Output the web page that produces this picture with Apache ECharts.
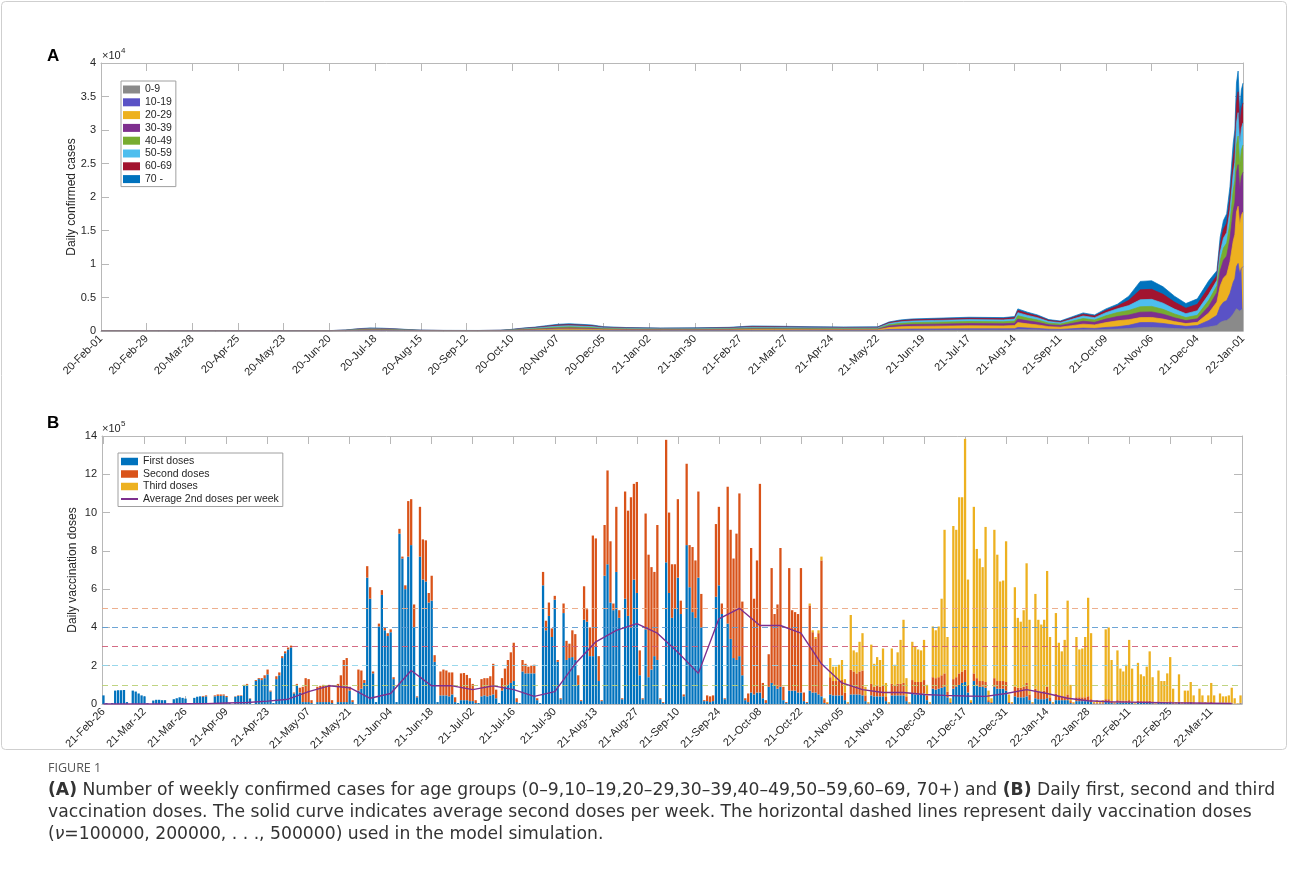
<!DOCTYPE html>
<html><head><meta charset="utf-8">
<script src="https://cdn.jsdelivr.net/npm/echarts@6/dist/echarts.min.js"></script>
<style>html,body{margin:0;padding:0;background:#fff}#chart{width:1289px;height:888px}</style>
</head><body><div id="chart"></div>
<script>
// ---------- Panel A: daily confirmed cases by age group (sample days from 20-Feb-01) ----------
const labelsA = ['20-Feb-01','20-Feb-29','20-Mar-28','20-Apr-25','20-May-23','20-Jun-20','20-Jul-18','20-Aug-15','20-Sep-12','20-Oct-10','20-Nov-07','20-Dec-05','21-Jan-02','21-Jan-30','21-Feb-27','21-Mar-27','21-Apr-24','21-May-22','21-Jun-19','21-Jul-17','21-Aug-14','21-Sep-11','21-Oct-09','21-Nov-06','21-Dec-04','22-Jan-01'];
const daysA = [0,35,70,105,140,150,158,165,172,179,186,196,210,231,245,252,259,266,273,280,287,294,301,308,322,343,364,385,399,413,434,455,476,483,490,497,511,532,553,560,562,568,574,581,588,595,602,609,616,623,630,637,644,651,658,665,672,679,684,686,688,690,692,694,695,696,697,698,699,700];
const ageNames = ['0-9','10-19','20-29','30-39','40-49','50-59','60-69','70 -'];
const age0_9 = [3,3,2,2,3,8,18,22,21,18, 12,6,5,4,6,12,22,29,40,50, 54,50,45,32,26,22,24,28,38,36, 32,30,31,94,116,126,133,144,140,150, 231,196,168,119,105,147,189,168,231,280, 364,518,525,462,364,287,336,600,810,1260, 1485,1575,1935,2520,2700,3330,3492,2970,3240,3330];
const age10_19 = [4,4,3,3,4,10,25,32,29,25, 18,9,6,6,8,18,32,41,56,70, 76,70,63,46,36,32,33,38,52,50, 46,42,43,122,148,162,171,184,180,194, 297,252,216,153,135,189,243,216,297,360, 494,740,750,660,520,410,480,975,1530,2380, 2805,2975,3655,4760,5100,6290,6596,5610,6120,6290];
const age20_29 = [10,8,7,7,10,26,60,76,71,60, 42,22,15,14,20,42,76,99,136,170, 184,170,153,110,88,76,80,94,128,122, 110,102,105,297,363,396,418,451,440,473, 726,616,528,374,330,462,594,528,726,880, 832,740,750,660,520,410,480,1125,1980,3080, 3630,3850,4730,6160,6600,8140,8536,7260,7920,8140];
const age30_39 = [8,6,5,5,8,20,45,58,55,45, 33,17,12,10,16,33,58,75,104,130, 140,130,117,85,68,58,61,72,98,94, 85,78,81,216,264,288,304,328,320,344, 528,448,384,272,240,336,432,384,528,640, 702,814,825,726,572,451,528,975,1440,2240, 2640,2800,3440,4480,4800,5920,6208,5280,5760,5920];
const age40_49 = [9,8,6,6,9,22,52,68,63,52, 38,20,13,12,18,38,68,87,120,150, 162,150,135,98,78,68,70,82,112,108, 98,90,93,202,248,270,285,308,300,322, 495,420,360,255,225,315,405,360,495,600, 676,814,825,726,572,451,528,900,990,1540, 1815,1925,2365,3080,3300,4070,4268,3630,3960,4070];
const age50_59 = [10,8,7,7,10,25,60,77,72,60, 42,22,15,14,20,42,77,99,136,170, 184,170,153,110,88,77,80,94,128,122, 110,102,105,189,231,252,266,287,280,301, 462,392,336,238,210,294,378,336,462,560, 728,1036,1050,924,728,574,672,900,810,1260, 1485,1575,1935,2520,2700,3330,3492,2970,3240,3330];
const age60_69 = [9,7,6,6,9,21,49,63,59,49, 35,18,13,11,17,35,63,81,112,140, 151,140,126,91,73,63,66,77,105,101, 91,84,87,135,165,180,190,205,200,215, 330,280,240,170,150,210,270,240,330,400, 780,1480,1500,1320,1040,820,960,1050,720,1120, 1320,1400,1720,2240,2400,2960,3104,2640,2880,2960];
const age70 = [7,6,4,4,7,18,41,54,50,41, 30,16,11,9,15,30,54,69,96,120, 129,120,108,78,63,54,56,66,90,86, 78,72,74,95,115,126,133,144,140,150, 231,196,168,119,105,147,189,168,231,280, 624,1258,1275,1122,884,697,816,975,720,1120, 1320,1400,1720,2240,2400,2960,3104,2640,2880,2960];

// ---------- Panel B: daily vaccination doses (units of 1e5), day 0 = 21-Feb-26 ----------
const labelsB = ['21-Feb-26','21-Mar-12','21-Mar-26','21-Apr-09','21-Apr-23','21-May-07','21-May-21','21-Jun-04','21-Jun-18','21-Jul-02','21-Jul-16','21-Jul-30','21-Aug-13','21-Aug-27','21-Sep-10','21-Sep-24','21-Oct-08','21-Oct-22','21-Nov-05','21-Nov-19','21-Dec-03','21-Dec-17','21-Dec-31','22-Jan-14','22-Jan-28','22-Feb-11','22-Feb-25','22-Mar-11'];
const firstDoses = [
.45,.05,0,.05,.7,.72,.72,.73,.1,0,
.7,.65,.55,.45,.4,.05,0,.18,.22,.22,
.2,.2,.02,0,.25,.3,.35,.32,.28,.03,
0,.32,.38,.4,.38,.4,.05,0,.4,.42,
.42,.44,.36,.05,0,.38,.42,.42,.96,1.0,
.28,0,1.2,1.3,1.25,1.35,1.55,.65,.05,1.3,
1.5,2.4,2.65,2.85,2.95,.55,1.0,.6,.1,.1,
.1,.05,0,.1,.1,.1,.1,.1,.05,0,
.1,.1,.1,.1,.7,.1,0,.7,.8,1.1,
6.6,5.5,1.6,.1,4.05,5.7,3.85,3.55,3.75,1.3,
.1,8.9,7.6,6.0,7.7,8.3,4.0,.35,7.7,6.5,
6.4,5.3,5.4,2.2,.1,.45,.45,.45,.4,.5,
.1,.05,.2,.2,.2,.15,.15,.05,.05,.4,
.45,.4,.45,.5,.3,.05,.7,.9,1.0,1.1,
1.2,.1,.05,1.7,1.6,1.6,1.6,1.6,.2,.05,
6.2,3.85,4.6,3.5,5.45,2.2,.25,4.75,2.3,2.4,
2.45,2.3,1.0,.15,4.4,4.3,2.5,2.5,3.0,1.2,
.15,6.7,7.3,5.3,4.9,6.9,4.5,.25,5.5,4.6,
4.0,6.5,5.8,1.5,.25,3.9,1.4,1.8,2.5,2.3,
.25,.05,7.4,5.8,4.5,5.0,6.6,4.7,.4,8.3,
6.1,4.8,4.5,6.6,4.0,.15,.15,.1,.15,5.6,
6.2,4.7,.25,4.2,3.4,2.4,2.3,2.5,1.5,.2,
.1,.6,.5,.6,.6,.3,.05,.9,1.1,1.0,
.8,.9,.2,.05,.7,.7,.7,.6,.6,.15,
.05,.7,.6,.6,.5,.4,.05,0,.5,.45,
.45,.45,.45,.2,.02,.5,.5,.5,.5,.45,
.15,.02,.45,.4,.4,.4,.4,.15,.02,.45,
.45,.45,.45,.45,.15,.02,.55,.5,.5,.5,
.55,.2,.02,.8,.75,.8,.85,.9,.35,.05,
.8,.9,1.0,1.1,1.15,.6,.05,1.2,1.0,.9,
.9,.85,.1,.05,.9,.8,.8,.8,.7,.05,
.02,.4,.35,.35,.35,.4,.2,.02,.3,.25,
.25,.25,.3,.15,.02,.2,.2,.2,.2,.2,
.05,.02,.15,.15,.15,.15,.15,.1,.02,.02,
.02,.02,.1,.1,.05,.02,.08,.08,.08,.08,
.08,.05,.01,.07,.07,.07,.07,.07,.04,.01,
.06,.05,.05,.05,.06,.03,.01,.05,.01,.04,
.04,.05,.02,.01,.04,.03,.01,.03,.05,.02,
.01,.03,.03,.03,.03,.03,.01,.01,.03];
const secondDoses = [
0,0,0,0,0,0,0,0,0,0,
0,0,0,0,0,0,0,0,0,0,
0,0,0,0,0,0,0,0,0,0,
0,0,0,0,.04,.05,0,0,.05,.08,
.08,.06,.06,0,0,.02,.03,.03,.04,.05,
.02,0,.05,.05,.1,.15,.25,.05,0,.15,
.15,.1,.1,.1,.1,.05,.05,.25,.8,1.25,
1.2,.15,0,.8,.85,.9,.85,.9,.15,0,
.95,1.4,2.2,2.3,.2,.1,0,1.1,.95,.15,
.6,.6,.1,0,.15,.25,.15,.15,.15,.1,
0,.25,.1,.2,2.9,2.4,1.2,.05,2.6,2.1,
2.15,.5,1.3,.35,0,1.25,1.35,1.3,1.25,1.15,
.25,0,1.4,1.42,1.32,1.2,.9,.15,0,.9,
.9,.95,1.0,1.6,.45,0,.65,.95,1.3,1.6,
2.0,.2,0,.6,.5,.35,.4,.45,.1,0,
.7,.5,.7,.45,.2,.1,.05,.5,1.0,.75,
1.4,1.35,.5,.05,1.75,.65,1.5,6.3,5.65,1.3,
.05,2.65,4.9,3.2,.35,3.4,.4,.05,5.6,5.5,
6.8,5.0,5.8,1.3,.05,6.05,6.4,5.35,4.4,7.05,
.05,.05,6.4,4.2,2.8,2.3,4.1,.7,.1,4.25,
2.2,3.4,3.0,4.5,1.75,.05,.3,.3,.3,3.8,
4.1,.55,.05,7.15,5.7,5.2,6.6,8.5,3.85,.1,
.45,7.55,5.0,6.9,10.9,.8,.15,1.7,6.0,3.7,
4.4,7.25,.7,.05,6.4,4.2,4.1,4.1,6.5,.45,
.05,4.45,3.15,2.8,3.2,7.1,.2,.05,.9,.75,
.75,.75,.8,.4,.03,1.3,1.2,1.1,1.2,1.3,
.3,.03,.6,.5,.6,.5,.6,.25,.03,.6,
.55,.6,.6,.65,.25,.03,.7,.65,.65,.65,
.7,.25,.03,.6,.6,.6,.65,.7,.3,.05,
.5,.5,.6,.6,.65,.4,.05,.4,.35,.3,
.3,.3,.1,.05,.45,.4,.4,.4,.45,.05,
.03,.5,.5,.5,.55,.7,.3,.03,.5,.4,
.4,.45,.6,.2,.03,.35,.25,.2,.2,.3,
.1,.03,.2,.2,.2,.2,.25,.15,.03,.03,
.03,.03,.15,.15,.1,.03,.12,.1,.1,.1,
.12,.08,.02,.1,.08,.08,.08,.1,.06,.02,
.08,.07,.07,.07,.08,.05,.02,.07,.02,.05,
.05,.06,.03,.01,.05,.04,.01,.04,.05,.03,
.01,.04,.03,.03,.03,.04,.02,.01,.03];
const thirdDosesStartDay = 240;
const thirdDoses = [
0,.1,.1,.1,.15,.2,.05,.05,1.0,.75,
.75,.85,1.05,.7,.05,2.85,1.1,1.1,1.55,1.95,
.45,.05,2.05,1.2,1.45,1.4,1.9,.7,.05,1.85,
1.05,1.65,2.3,3.3,.95,.05,2.0,1.85,1.7,1.65,
2.1,.55,.05,2.65,2.5,2.65,4.0,7.5,2.85,.2,
8.0,7.7,9.2,9.1,12.05,5.5,.1,8.7,6.75,6.4,
5.95,8.1,.5,.2,7.75,6.6,5.2,5.25,7.35,.4,
.05,5.2,3.65,3.45,4.0,6.25,3.9,.05,4.95,3.75,
3.5,3.7,6.05,3.15,.05,4.2,2.75,2.35,2.95,4.9,
.85,.05,3.15,2.5,2.55,3.15,5.15,3.45,.05,.15,
.1,.15,3.65,3.75,2.15,.05,2.6,1.67,1.52,1.87,
3.15,1.72,.07,1.98,1.4,1.3,1.8,2.58,1.3,.07,
1.61,1.08,1.08,1.48,2.31,.72,.07,1.43,.07,.61,
.61,1.04,.4,.03,.71,.38,.08,.38,1.0,.4,
.03,.48,.34,.34,.39,.78,.27,.03,.39];
// weekly average of second doses, one value every 7 days starting at day 0
const avg2ndWeekly = [0,0,0,0,.01,.02,.05,.08,.15,.25, .65,.95,.85,.3,.55,1.75,.95,.95,.75,.95, .75,.4,.65,2.1,3.25,3.85,4.2,3.7,2.7,1.6, 4.45,5.0,4.1,4.1,3.7,2.1,1.1,.75,.6,.6, .5,.45,.42,.4,.55,.75,.55,.3,.17,.12, .1,.08,.06,.05,.04,.03];
const dashLevels = [1,2,3,4,5];

// ---------- styling ----------
const FONT = '"Liberation Sans", Arial, Helvetica, sans-serif';
const TXT = '#262626';
const AX = '#b8b8b8';
const ageColors = ['#8a8a8a','#5a52c6','#edb120','#7e2f8e','#77ac30','#4dbeee','#a2142f','#0072bd'];
const doseColors = ['#0072bd','#d95319','#edb120'];
const dashColors = ['#b9cf74','#8ed4ea','#cf5c78','#5d9bd2','#eba682'];

const ageArrays = [age0_9, age10_19, age20_29, age30_39, age40_49, age50_59, age60_69, age70];
// cumulative tops of the stacked bands (table for drawing)
const cumA = [];
let run = daysA.map(() => 0);
ageArrays.forEach(arr => { run = run.map((v, i) => v + arr[i]); cumA.push(run); });

const dayIdx = firstDoses.map((_, i) => i);
const thirdFull = dayIdx.map(i => i < thirdDosesStartDay ? 0 : thirdDoses[i - thirdDosesStartDay]);
const avgFull = dayIdx.map(i => (i % 7 === 0 && avg2ndWeekly[i / 7] !== undefined) ? avg2ndWeekly[i / 7] : null);

const chart = echarts.init(document.getElementById('chart'), null, {renderer: 'canvas'});

function boxAxis(extra) {
  return Object.assign({
    axisLine: {show: true, onZero: false, lineStyle: {color: AX, width: 1}},
    axisTick: {show: true, inside: true, length: 8, lineStyle: {color: AX}},
    splitLine: {show: false}
  }, extra);
}

// draw the largest cumulative band first so the lower bands paint over it
const seriesA = [];
for (let k = ageNames.length - 1; k >= 0; k--) {
  seriesA.push({
    name: ageNames[k], type: 'line', xAxisIndex: 0, yAxisIndex: 0,
    symbol: 'none', color: ageColors[k],
    lineStyle: {width: 0.7, color: ageColors[k]},
    areaStyle: {color: ageColors[k], opacity: 1, origin: 'start'},
    data: daysA.map((d, i) => [d, cumA[k][i]]),
    animation: false
  });
}

const seriesB = [
  {name: 'First doses', data: firstDoses},
  {name: 'Second doses', data: secondDoses},
  {name: 'Third doses', data: thirdFull}
].map((s, k) => ({
  name: s.name, type: 'bar', xAxisIndex: 2, yAxisIndex: 2, stack: 'dose',
  barWidth: '78%', color: doseColors[k], itemStyle: {color: doseColors[k]},
  data: s.data, animation: false
}));

seriesB.push({
  name: 'Average 2nd doses per week', type: 'line', xAxisIndex: 2, yAxisIndex: 2,
  data: avgFull, connectNulls: true, symbol: 'none', symbolSize: 0, showSymbol: false, color: '#7e2f8e',
  lineStyle: {color: '#7e2f8e', width: 1.4}, z: 5, animation: false,
  markLine: {
    silent: true, symbol: ['none', 'none'], label: {show: false}, animation: false,
    data: dashLevels.map((v, i) => ({yAxis: v, lineStyle: {color: dashColors[i], type: [6, 4], width: 1.1, opacity: 0.9}}))
  }
});

const legendBase = {
  orient: 'vertical', selectedMode: false, backgroundColor: '#fff',
  borderColor: '#a0a0a0', borderWidth: 1, borderRadius: 0,
  itemWidth: 17, itemTextGap: 4
};

const capFont = '"DejaVu Sans", "Noto Sans", sans-serif';
const CAPSIZE = 17.2;
const capRich = {
  b: {fontWeight: 'bold', fontSize: CAPSIZE, fontFamily: capFont, color: '#333'},
  i: {fontStyle: 'italic', fontSize: CAPSIZE, fontFamily: capFont, color: '#333'}
};

const yName = {nameLocation: 'middle', nameGap: 23, nameMoveOverlap: false,
  nameTextStyle: {fontSize: 12, color: TXT, fontFamily: FONT}};

const option = {
  backgroundColor: '#fff',
  animation: false,
  grid: [
    {left: 101, top: 63, width: 1142, height: 268},
    {left: 102, top: 436, width: 1140, height: 268}
  ],
  xAxis: [
    boxAxis({gridIndex: 0, type: 'value', min: 0, max: 700, interval: 28,
      axisLabel: {rotate: 45, fontSize: 11, color: TXT, fontFamily: FONT, margin: 6,
        formatter: v => labelsA[Math.round(v / 28)] || ''}}),
    boxAxis({gridIndex: 0, type: 'value', position: 'top', min: 0, max: 700, interval: 28, axisLabel: {show: false}}),
    boxAxis({gridIndex: 1, type: 'category', data: dayIdx, boundaryGap: true,
      axisTick: {show: true, inside: true, length: 8, interval: 13, alignWithLabel: true, lineStyle: {color: AX}},
      axisLabel: {interval: 13, rotate: 45, fontSize: 11, color: TXT, fontFamily: FONT, margin: 6,
        formatter: (v, i) => labelsB[i / 14] || ''}}),
    boxAxis({gridIndex: 1, type: 'category', data: dayIdx, boundaryGap: true, position: 'top',
      axisTick: {show: true, inside: true, length: 8, interval: 13, alignWithLabel: true, lineStyle: {color: AX}},
      axisLabel: {show: false}})
  ],
  yAxis: [
    boxAxis(Object.assign({gridIndex: 0, type: 'value', min: 0, max: 40000, interval: 5000,
      name: 'Daily confirmed cases',
      axisLabel: {fontSize: 11, color: TXT, fontFamily: FONT, margin: 5, formatter: v => String(v / 10000)}}, yName)),
    boxAxis({gridIndex: 0, type: 'value', position: 'right', min: 0, max: 40000, interval: 5000, axisLabel: {show: false}}),
    boxAxis(Object.assign({gridIndex: 1, type: 'value', min: 0, max: 14, interval: 2,
      name: 'Daily vaccination doses',
      axisLabel: {fontSize: 11, color: TXT, fontFamily: FONT, margin: 5}}, yName)),
    boxAxis({gridIndex: 1, type: 'value', position: 'right', min: 0, max: 14, interval: 2, axisLabel: {show: false}})
  ],
  legend: [
    Object.assign({}, legendBase, {
      data: ageNames.map(n => ({name: n, icon: 'rect'})),
      left: 121, top: 81, itemHeight: 8, itemGap: 1.8, padding: [3, 4, 2, 2],
      textStyle: {fontSize: 10.5, color: TXT, fontFamily: FONT}
    }),
    Object.assign({}, legendBase, {
      data: [{name: 'First doses', icon: 'rect'}, {name: 'Second doses', icon: 'rect'}, {name: 'Third doses', icon: 'rect'},
             {name: 'Average 2nd doses per week', itemStyle: {opacity: 0, borderWidth: 0}}],
      left: 118, top: 453, itemHeight: 7.5, itemGap: 1.5, padding: [3, 4, 2, 2],
      textStyle: {fontSize: 10.5, color: TXT, fontFamily: FONT}
    })
  ],
  series: seriesA.concat(seriesB),
  graphic: [
    {type: 'rect', shape: {x: 1.5, y: 1.5, width: 1285, height: 748, r: 4}, style: {fill: 'none', stroke: '#cfcfcf', lineWidth: 1}, z: -10, silent: true},
    {type: 'text', x: 47, y: 48, style: {text: 'A', font: 'bold 17px ' + FONT, fill: '#000'}},
    {type: 'text', x: 47, y: 415, style: {text: 'B', font: 'bold 17px ' + FONT, fill: '#000'}},
    {type: 'text', x: 102, y: 61, style: {text: '×10', font: '11px ' + FONT, fill: TXT, verticalAlign: 'bottom'}},
    {type: 'text', x: 121, y: 55, style: {text: '4', font: '8px ' + FONT, fill: TXT, verticalAlign: 'bottom'}},
    {type: 'text', x: 102, y: 434, style: {text: '×10', font: '11px ' + FONT, fill: TXT, verticalAlign: 'bottom'}},
    {type: 'text', x: 121, y: 428, style: {text: '5', font: '8px ' + FONT, fill: TXT, verticalAlign: 'bottom'}},
    {type: 'text', x: 48, y: 768, style: {text: 'FIGURE 1', font: '12.5px "Open Sans", sans-serif', fill: '#555', verticalAlign: 'middle'}},
    {type: 'text', x: 48, y: 791, style: {text: '{b|(A)} Number of weekly confirmed cases for age groups (0–9,10–19,20–29,30–39,40–49,50–59,60–69, 70+) and {b|(B)} Daily first, second and third', font: CAPSIZE + 'px ' + capFont, fill: '#333', verticalAlign: 'middle', rich: capRich}},
    {type: 'text', x: 48, y: 813, style: {text: 'vaccination doses. The solid curve indicates average second doses per week. The horizontal dashed lines represent daily vaccination doses', font: CAPSIZE + 'px ' + capFont, fill: '#333', verticalAlign: 'middle'}},
    {type: 'text', x: 48, y: 835, style: {text: '({i|ν}=100000, 200000, . . ., 500000) used in the model simulation.', font: CAPSIZE + 'px ' + capFont, fill: '#333', verticalAlign: 'middle', rich: capRich}}
  ]
};
chart.setOption(option);
</script></body></html>
